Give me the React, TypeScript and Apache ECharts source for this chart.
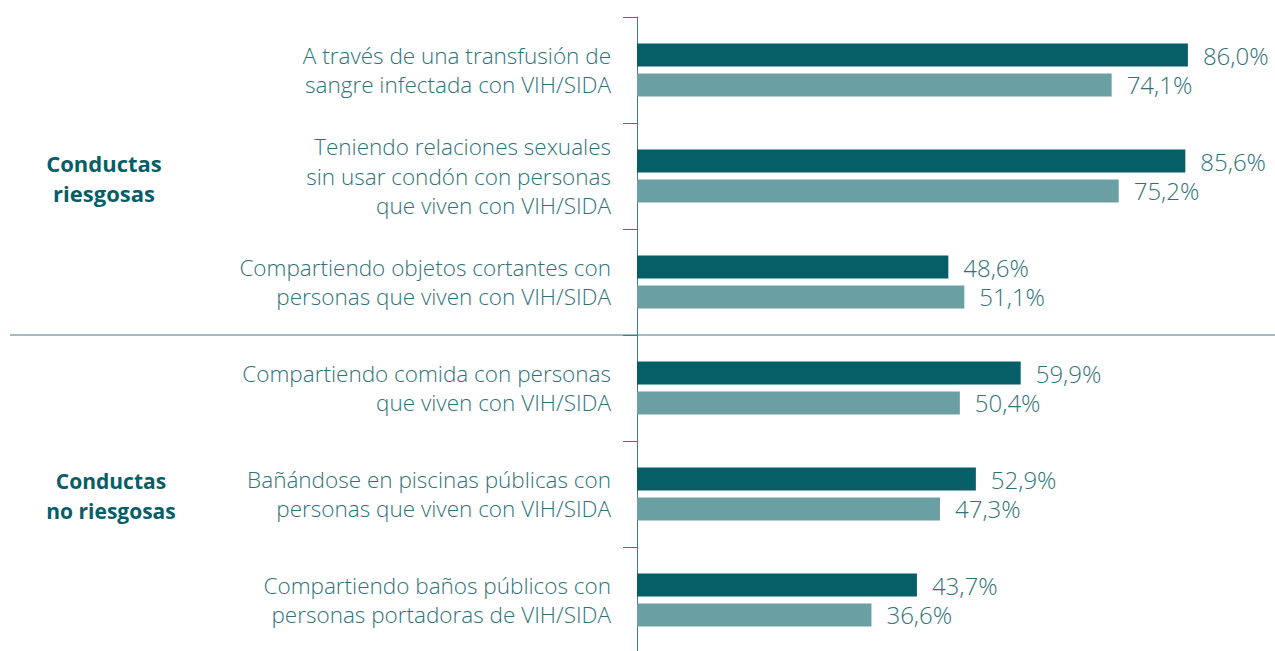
import React, { useEffect, useRef } from "react";
import * as echarts from "echarts";

const categories = [
  "A través de una transfusión de\nsangre infectada con VIH/SIDA",
  "Teniendo relaciones sexuales\nsin usar condón con personas\nque viven con VIH/SIDA",
  "Compartiendo objetos cortantes con\npersonas que viven con VIH/SIDA",
  "Compartiendo comida con personas\nque viven con VIH/SIDA",
  "Bañándose en piscinas públicas con\npersonas que viven con VIH/SIDA",
  "Compartiendo baños públicos con\npersonas portadoras de VIH/SIDA",
];
const seriesA = [86.0, 85.6, 48.6, 59.9, 52.9, 43.7];
const seriesB = [74.1, 75.2, 51.1, 50.4, 47.3, 36.6];
const groupLabels = ["Conductas\nriesgosas", "Conductas\nno riesgosas"];

const DARK = "#065e66";
const LIGHT = "#6a9fa4";
const TEXT = "#2f7378";
const AXIS = "#3f7c81";
const FONT = "'Open Sans', sans-serif";

const fmt = (v: number) => v.toFixed(1).replace(".", ",") + "%";

export default function App() {
  const ref = useRef<HTMLDivElement>(null);
  useEffect(() => {
    if (!ref.current) return;
    const chart = echarts.init(ref.current, undefined, { renderer: "svg" });
    const label = {
      show: true,
      position: "right" as const,
      distance: 15,
      color: TEXT,
      fontFamily: FONT,
      fontWeight: 300,
      fontSize: 24,
      formatter: (p: any) => fmt(p.value),
    };
    chart.setOption({
      animation: false,
      grid: { left: 637, top: 17, width: 638, height: 636, outerBoundsMode: "none" },
      xAxis: {
        type: "value",
        min: 0,
        max: 99.6,
        show: false,
      },
      yAxis: {
        type: "category",
        inverse: true,
        data: categories,
        axisLine: { show: true, lineStyle: { color: AXIS, width: 1 } },
        axisTick: { show: true, length: 14, lineStyle: { color: AXIS, width: 1 } },
        axisLabel: {
          margin: 26,
          color: TEXT,
          fontFamily: FONT,
          fontWeight: 300,
          fontSize: 22.5,
          lineHeight: 29.5,
          align: "right",
        },
        splitLine: { show: false },
      },
      series: [
        {
          type: "bar",
          data: seriesA,
          barWidth: 23,
          barGap: "30%",
          itemStyle: { color: DARK },
          label,
        },
        {
          type: "bar",
          data: seriesB,
          barWidth: 23,
          itemStyle: { color: LIGHT },
          label,
        },
      ],
      graphic: [
        {
          type: "line",
          shape: { x1: 10, y1: 335, x2: 1275, y2: 335 },
          style: { stroke: AXIS, lineWidth: 1 },
        },
        {
          type: "text",
          x: 104,
          y: 178,
          style: {
            text: groupLabels[0],
            fill: DARK,
            font: `bold 22px ${FONT}`,
            lineHeight: 30,
            align: "center",
            verticalAlign: "middle",
          },
        },
        {
          type: "text",
          x: 111,
          y: 496,
          style: {
            text: groupLabels[1],
            fill: DARK,
            font: `bold 21px ${FONT}`,
            lineHeight: 30,
            align: "center",
            verticalAlign: "middle",
          },
        },
      ],
    });
    return () => chart.dispose();
  }, []);
  return (
    <div
      ref={ref}
      style={{ position: "fixed", left: 0, top: 0, width: 1275, height: 651, background: "#fff" }}
    />
  );
}
